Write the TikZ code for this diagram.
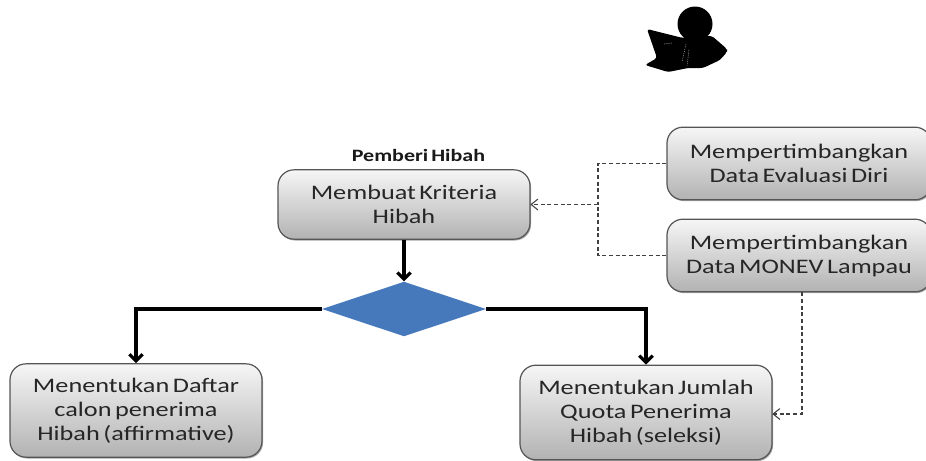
\documentclass[tikz,border=0pt]{standalone}
\usepackage{fontspec}
\setmainfont{Carlito}
\newfontfamily\boxfont[FakeStretch=1.27,WordSpace=0.6]{Carlito}
\usetikzlibrary{arrows.meta,shapes.geometric,shadows}
\definecolor{boxline}{RGB}{85,85,85}
\definecolor{boxtop}{RGB}{246,246,246}
\definecolor{boxbottom}{RGB}{178,178,178}
\definecolor{decisionblue}{RGB}{70,120,188}
\tikzset{
    hibahbox/.style={draw=boxline, line width=0.9pt, rounded corners=12pt, top color=boxtop, bottom color=boxbottom,
        drop shadow={shadow xshift=0.8pt, shadow yshift=-1pt, fill=black, opacity=0.35},
        minimum width=189pt, align=center, inner sep=0pt, text=black!85,
        font=\boxfont\fontsize{15.5}{18}\selectfont,
        execute at begin node=\rule{0pt}{14pt}},
    flowarrow/.style={line width=2.4pt, -{Straight Barb[length=5pt,width=10pt,line width=2.4pt]}},
    datalink/.style={draw=black!75, line width=0.8pt, densely dashed},
    dataarrow/.style={datalink, -{Straight Barb[length=5pt,width=8pt,line width=0.8pt,round]}}
}
\begin{document}
\begin{tikzpicture}[x=0.75pt,y=-0.75pt]
    \useasboundingbox (0,0) rectangle (926,461);

    % Icona in alto
    \fill[black, rounded corners=2pt] (647,29) -- (683,38) -- (690,36) -- (712,36) -- (727,49) -- (727,52) -- (720,60) -- (703,68) -- (688,68) -- (668,72) -- (645,65) -- (657,58) -- cycle;
    \fill[black] (695,24) circle (17.5);
    \draw[white, line width=0.4pt, densely dotted] (664,44) -- (672,43) (686,44) -- (682,62) (689,50) -- (687,66);

    % Caselle
    \node[font=\boxfont\bfseries\fontsize{13}{14}\selectfont, text=black!90] (pemberi) at (418.5,155) {Pemberi Hibah};
    \node[hibahbox, minimum height=52pt] (kriteria) at (404,204.5) {Membuat Kriteria\\Hibah};
    \node[hibahbox, minimum width=198pt, minimum height=54.5pt] (evaluasi) at (799,163.5) {Mempertimbangkan\\Data Evaluasi Diri};
    \node[hibahbox, minimum width=198pt, minimum height=54.5pt] (monev) at (799,255.5) {Mempertimbangkan\\Data MONEV Lampau};
    \node[hibahbox, minimum height=70pt] (daftar) at (136,410.5) {Menentukan Daftar\\calon penerima\\Hibah (affirmative)};
    \node[hibahbox, minimum height=71pt] (jumlah) at (646,412.5) {Menentukan Jumlah\\Quota Penerima\\Hibah (seleksi)};
    \node[diamond, fill=decisionblue, aspect=3, minimum width=123pt, minimum height=41pt, inner sep=0pt] (decisione) at (404,309) {};

    % Frecce
    \draw[flowarrow] (kriteria.south) -- (decisione.north);
    \draw[flowarrow] (decisione.west) -| (daftar.north);
    \draw[flowarrow] (decisione.east) -| (jumlah.north);

    % Collegamenti tratteggiati
    \coordinate (snodo) at (598,204.5);
    \coordinate (sceso) at (802,414);
    \foreach \sorgente in {evaluasi,monev} {
        \draw[datalink] (\sorgente.west) -| (snodo);
    }
    \draw[dataarrow] (snodo) -- (kriteria.east);
    \draw[dataarrow] (monev.south -| sceso) -- (sceso) -- (sceso -| jumlah.east);
\end{tikzpicture}
\end{document}
